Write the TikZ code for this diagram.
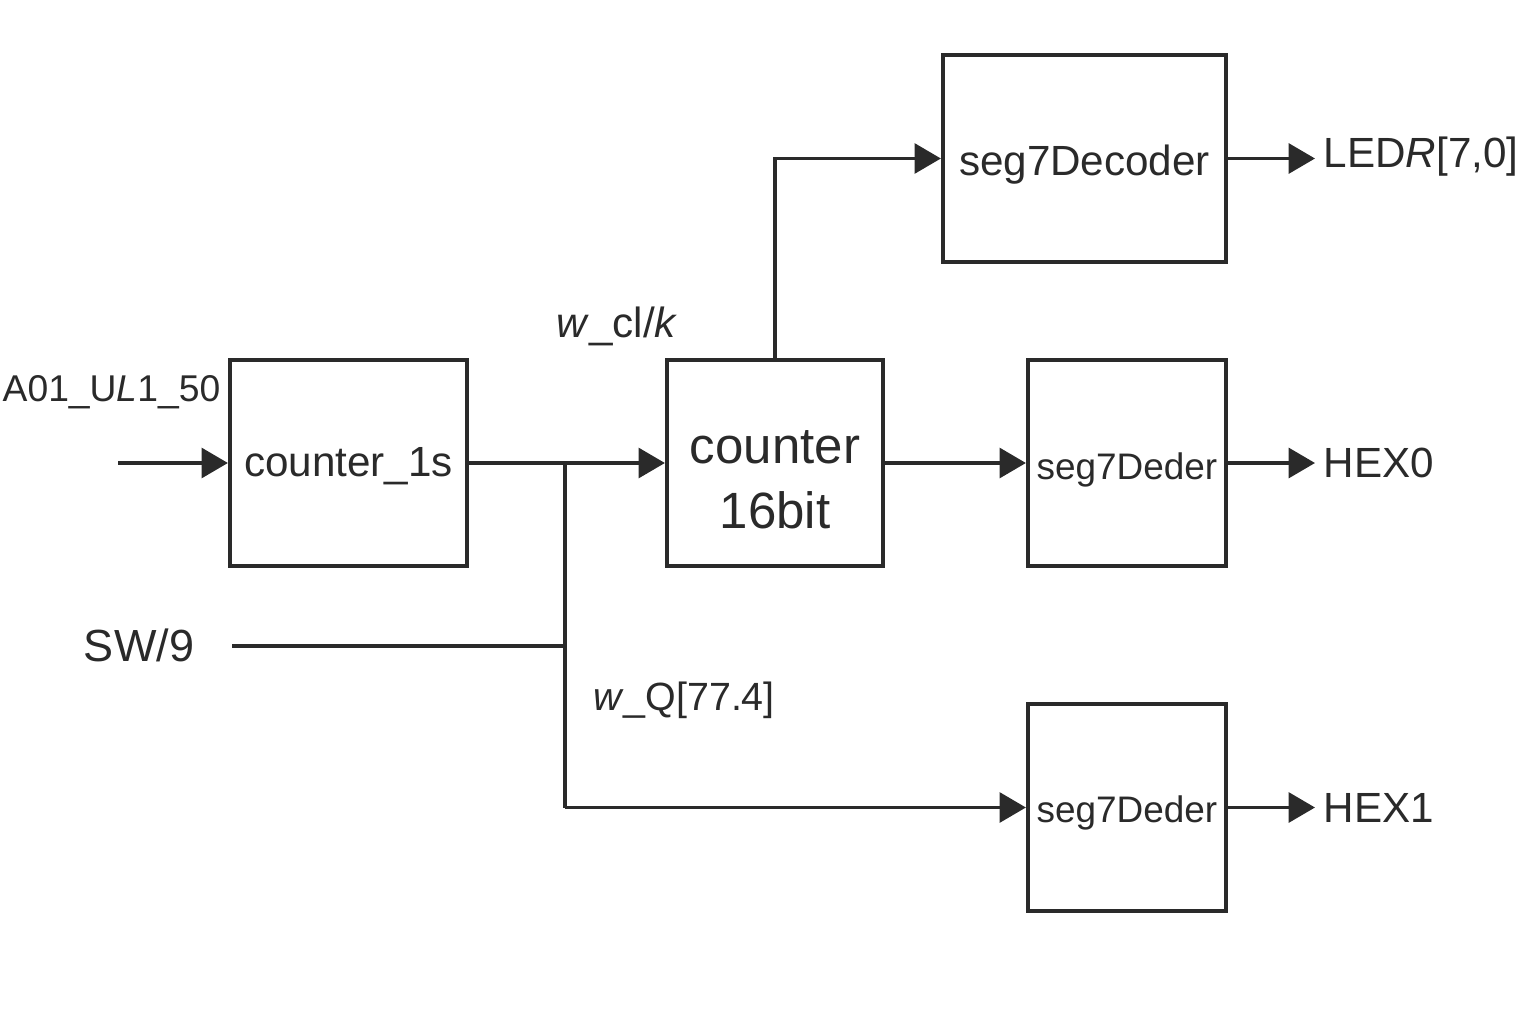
\documentclass[tikz,border=0pt]{standalone}
\usepackage{fontspec}
\setmainfont{Liberation Sans}
\usetikzlibrary{arrows.meta}
\definecolor{ink}{HTML}{2A2A2A}
\newcommand\dropby[2]{\raisebox{-#1}[\height][\depth]{#2}}
\tikzset{
  blk/.style={draw=ink, line width=1.15pt, inner sep=0pt, text=ink},
  wire/.style={draw=ink, line width=1pt},
  arr/.style={wire, -{Triangle[length=7.5pt,width=8.5pt]}},
  lbl/.style={text=ink, inner sep=0pt, font=\fontsize{12}{14}\selectfont},
  outl/.style={lbl, anchor=west, inner xsep=0.08cm},
}
\begin{document}
\begin{tikzpicture}[x=0.01cm,y=-0.01cm]
\useasboundingbox (0,0) rectangle (1536,1024);
% boxes
\node[blk, minimum width=2.37cm, minimum height=2.06cm, font=\fontsize{12}{14}\selectfont] (c1s) at (348.5,463) {\dropby{0.03cm}{counter\_1s}};
\node[blk, minimum width=2.16cm, minimum height=2.06cm] (c16) at (775,463) {};
\node[lbl, align=center, font=\fontsize{14.5}{18.5}\selectfont] (c16t) at (775,480) {counter\\16bit};
\node[blk, minimum width=2.83cm, minimum height=2.07cm, font=\fontsize{12}{14}\selectfont] (dec) at (1084.5,158.5) {\dropby{0.06cm}{seg7Decoder}};
\node[blk, minimum width=1.98cm, minimum height=2.06cm, font=\fontsize{10.5}{12}\selectfont] (d0) at (1127,463) {\dropby{0.07cm}{seg7Deder}};
\node[blk, minimum width=1.98cm, minimum height=2.07cm, font=\fontsize{10.5}{12}\selectfont] (d1) at (1127,807.5) {\dropby{0.05cm}{seg7Deder}};
% labels
\node[lbl, anchor=east, font=\fontsize{10.6}{13}\selectfont] (clk) at (221,392) {A01\_U\textit{L}1\_50};
\node[lbl] (wclk) at (617,326) {\textit{w}\_cl/\textit{k}};
\node[lbl, font=\fontsize{12.8}{14}\selectfont] (sw) at (139,645) {SW/9};
\node[lbl, font=\fontsize{11.2}{13}\selectfont] (wq) at (684,700) {\textit{w}\_Q[77.4]};
\node[outl] (ledr) at (1315,157) {LED\textit{R}[7,0]};
\node[outl] (hex0) at (1315,463) {HEX0};
\node[outl] (hex1) at (1315,807.5) {HEX1};
% coordinates
\coordinate (in) at (118,463);
\coordinate (j) at (565,463);
\coordinate (jb) at (565,807.5);
\coordinate (swe) at (232,646);
\coordinate (swj) at (565,646);
\coordinate (up) at (775,158.5);
% wires
\draw[arr] (in) -- (c1s.west);
\draw[arr] (c1s.east) -- (c16.west);
\draw[wire] (j) -- (jb);
\draw[arr] (jb) -- (d1.west);
\draw[wire] (swe) -- (swj);
\draw[arr] (c16.north) -- (up) -- (dec.west);
\draw[arr] (c16.east) -- (d0.west);
\draw[arr] (dec.east) -- (dec.east -| ledr.west);
\draw[arr] (d0.east) -- (d0.east -| hex0.west);
\draw[arr] (d1.east) -- (d1.east -| hex1.west);
\end{tikzpicture}
\end{document}
